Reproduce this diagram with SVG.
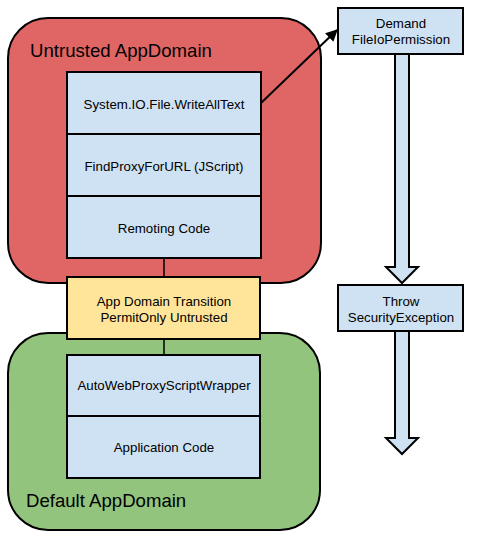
<svg xmlns="http://www.w3.org/2000/svg" width="482" height="541" viewBox="0 0 482 541">
<style>
.dom{stroke:#000;stroke-width:2}
.box{fill:#cfe2f3;stroke:#000;stroke-width:2}
.t{font-family:"Liberation Sans",Arial,sans-serif;font-size:13.3px;fill:#000;text-anchor:middle}
.big{font-family:"Liberation Sans",Arial,sans-serif;font-size:18.6px;fill:#000}
</style>
<defs>
<marker id="ah" viewBox="0 0 10 10" refX="9" refY="5" markerWidth="6" markerHeight="6" orient="auto" markerUnits="strokeWidth">
<path d="M0,0 L10,5 L0,10 z" fill="#000"/>
</marker>
</defs>
<g id="untrusted">
<rect class="dom" x="8" y="18" width="313" height="265" rx="40" fill="#e06666"/>
<text class="big" x="30" y="57">Untrusted AppDomain</text>
</g>
<g id="default">
<rect class="dom" x="8" y="333" width="312" height="197" rx="40" fill="#93c47d"/>
<text class="big" x="26" y="507">Default AppDomain</text>
</g>
<g id="connectors">
<line x1="164" y1="258" x2="164" y2="277" stroke="#000" stroke-width="1.5"/>
<line x1="164" y1="339" x2="164" y2="355" stroke="#000" stroke-width="1.5"/>
<line x1="261" y1="103" x2="337" y2="30" stroke="#000" stroke-width="2" marker-end="url(#ah)"/>
<path d="M395,54 L409,54 L409,267 L418,267 L402,283 L386,267 L395,267 Z" fill="#cfe2f3" stroke="#000" stroke-width="2"/>
<path d="M395,331 L409,331 L409,438 L418,438 L402,454 L386,438 L395,438 Z" fill="#cfe2f3" stroke="#000" stroke-width="2"/>
</g>
<g id="writealltext">
<rect class="box" x="67" y="72" width="194" height="62"/>
<text class="t" x="164" y="109">System.IO.File.WriteAllText</text>
</g>
<g id="findproxy">
<rect class="box" x="67" y="134" width="194" height="62"/>
<text class="t" x="164" y="171">FindProxyForURL (JScript)</text>
</g>
<g id="remoting">
<rect class="box" x="67" y="196" width="194" height="62"/>
<text class="t" x="164" y="233">Remoting Code</text>
</g>
<g id="transition">
<rect x="67" y="277" width="193" height="62" fill="#ffe599" stroke="#000" stroke-width="2"/>
<text class="t" x="164" y="306">App Domain Transition</text>
<text class="t" x="164" y="322">PermitOnly Untrusted</text>
</g>
<g id="wrapper">
<rect class="box" x="67" y="355" width="193" height="61"/>
<text class="t" x="164" y="390">AutoWebProxyScriptWrapper</text>
</g>
<g id="appcode">
<rect class="box" x="67" y="416" width="193" height="62"/>
<text class="t" x="164" y="452">Application Code</text>
</g>
<g id="demand">
<rect class="box" x="338" y="8" width="125" height="46"/>
<text class="t" x="401" y="28">Demand</text>
<text class="t" x="401" y="44">FileIoPermission</text>
</g>
<g id="throw">
<rect class="box" x="338" y="285" width="125" height="46"/>
<text class="t" x="401" y="306">Throw</text>
<text class="t" x="401" y="322">SecurityException</text>
</g>
</svg>
